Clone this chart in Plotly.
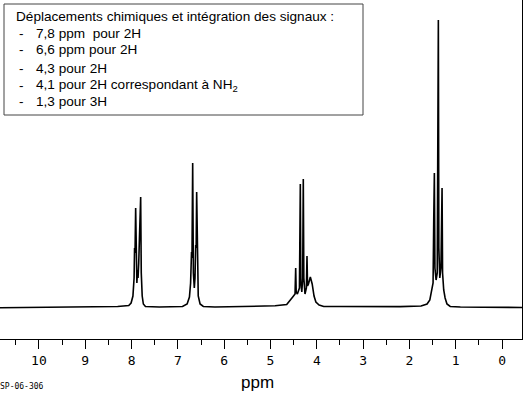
import plotly.graph_objects as go

# ---- spectrum vertices (ppm, intensity in arbitrary units) ----
base1_ppm = [10.84, 10.2, 9.6, 9.0, 8.6, 8.3]
base1_int = [0.3, 0.6, 0.4, 0.8, 1.0, 1.5]

d78_ppm = [8.06, 8.01, 7.97, 7.945, 7.935, 7.925, 7.911, 7.90, 7.885, 7.87, 7.86,
           7.845, 7.825, 7.815, 7.803, 7.79, 7.77, 7.745, 7.70]
d78_int = [2.5, 5, 12, 30, 60, 55, 100, 40, 25, 38, 30,
           45, 80, 75, 111, 35, 12, 4, 1.5]

base2_ppm = [7.4, 7.1]
base2_int = [1.0, 1.2]

d66_ppm = [6.90, 6.80, 6.75, 6.725, 6.705, 6.695, 6.680, 6.665, 6.645, 6.63,
           6.615, 6.605, 6.594, 6.58, 6.56, 6.52, 6.45]
d66_int = [1.5, 4, 11, 25, 56, 50, 145, 35, 20, 30,
           63, 60, 116, 40, 12, 4, 1.5]

base3_ppm = [6.2, 5.8, 5.4, 5.0]
base3_int = [1.0, 1.3, 1.5, 2.0]

q43_ppm = [4.9, 4.65, 4.58, 4.52, 4.47, 4.456, 4.445, 4.42, 4.375, 4.365, 4.356,
           4.345, 4.324, 4.305, 4.292, 4.28, 4.255, 4.225, 4.212, 4.20, 4.18,
           4.14, 4.10, 4.06, 4.02, 3.95, 3.85]
q43_int = [2.2, 3.5, 7, 11, 14, 40, 16, 14, 20, 85, 124,
           25, 16, 30, 129, 30, 14, 20, 52, 22, 24,
           31, 24, 12, 6, 3, 1.5]

base4_ppm = [3.5, 3.0, 2.6, 2.2]
base4_int = [1.5, 1.3, 1.5, 1.4]

t13_ppm = [1.75, 1.62, 1.56, 1.52, 1.49, 1.475, 1.462, 1.45, 1.425, 1.40, 1.385,
           1.376, 1.365, 1.345, 1.32, 1.305, 1.296, 1.285, 1.26, 1.23, 1.19, 1.12]
t13_int = [2, 4, 8, 18, 25, 90, 135, 40, 28, 35, 218,
           288, 60, 30, 40, 90, 120, 35, 18, 10, 4, 1.5]

base5_ppm = [0.9, 0.4, 0.0, -0.43]
base5_int = [1.0, 0.8, 0.6, 0.5]

tick_vals = [10, 9, 8, 7, 6, 5, 4, 3, 2, 1, 0]
tick_text = [str(v) for v in tick_vals]

box_lines = [
    "Déplacements chimiques et intégration des signaux :",
    "7,8 ppm\u00a0\u00a0pour 2H",
    "6,6 ppm pour 2H",
    "4,3 pour 2H",
    "4,1 pour 2H correspondant à NH<sub>2</sub>",
    "1,3 pour 3H",
]

ppm = base1_ppm + d78_ppm + base2_ppm + d66_ppm + base3_ppm + q43_ppm + base4_ppm + t13_ppm + base5_ppm
inten = base1_int + d78_int + base2_int + d66_int + base3_int + q43_int + base4_int + t13_int + base5_int

W, H = 529, 394
PL, PR, PT, PB = 0, 7, 0, 55
PW, PH = W - PL - PR, H - PT - PB


def px(x):
    return (x - PL) / PW


def py(y):
    return (PT + PH - y) / PH


fig = go.Figure()
fig.add_trace(go.Scatter(x=ppm, y=inten, mode="lines",
                         line=dict(color="black", width=1.6), hoverinfo="skip"))

fig.update_layout(
    width=W, height=H,
    margin=dict(l=PL, r=PR, t=PT, b=PB),
    paper_bgcolor="white", plot_bgcolor="white",
    showlegend=False,
    xaxis=dict(range=[10.84, -0.43], showgrid=False, zeroline=False,
               showline=True, linecolor="black", linewidth=1,
               ticks="outside", ticklen=9, tickwidth=1, tickcolor="black",
               tickvals=tick_vals, ticktext=tick_text,
               tickfont=dict(family="DejaVu Sans Mono", size=13, color="black"),
               minor=dict(dtick=0.5, tick0=0, ticks="outside", ticklen=5, tickcolor="black"),
               fixedrange=True),
    yaxis=dict(range=[-31, 308], showgrid=False, zeroline=False,
               showline=True, linecolor="black", linewidth=1, side="right",
               showticklabels=False, ticks="", fixedrange=True),
)

# text box
fig.add_shape(type="rect", xref="paper", yref="paper",
              x0=px(4), x1=px(363), y0=py(115), y1=py(4),
              line=dict(color="#444444", width=1), fillcolor="white", layer="above")

ys = [16, 33, 50, 68, 85, 101]
font_box = dict(family="Liberation Sans, Arial", size=13.6, color="black")
fig.add_annotation(x=px(14), y=py(ys[0]), xref="paper", yref="paper", text=box_lines[0],
                   showarrow=False, xanchor="left", yanchor="middle", font=font_box)
for i in range(1, 6):
    fig.add_annotation(x=px(17), y=py(ys[i]), xref="paper", yref="paper", text="-",
                       showarrow=False, xanchor="left", yanchor="middle", font=font_box)
    fig.add_annotation(x=px(34), y=py(ys[i]), xref="paper", yref="paper", text=box_lines[i],
                       showarrow=False, xanchor="left", yanchor="middle", font=font_box)

# axis title
fig.add_annotation(x=px(257), y=py(382), xref="paper", yref="paper", text="ppm",
                   showarrow=False, xanchor="center", yanchor="middle",
                   font=dict(family="Liberation Sans, Arial", size=17, color="black"))
# reference code
fig.add_annotation(x=px(-2), y=py(386), xref="paper", yref="paper", text="SP-06-306",
                   showarrow=False, xanchor="left", yanchor="middle",
                   font=dict(family="DejaVu Sans Mono", size=8, color="black"))

fig.write_html("out.html", config={"displayModeBar": False},
               post_script="document.body.style.margin='0';document.body.style.overflow='hidden';")
